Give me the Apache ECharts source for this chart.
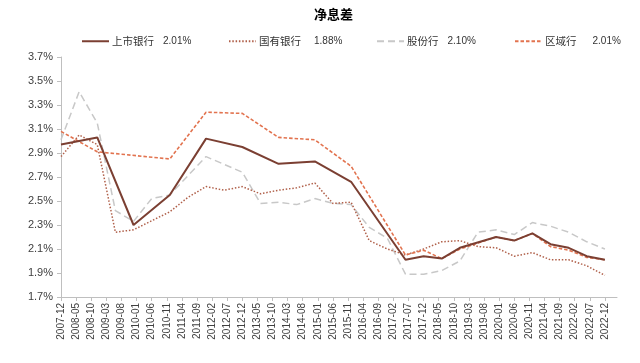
<!DOCTYPE html>
<html><head><meta charset="utf-8">
<script src="https://cdn.jsdelivr.net/npm/echarts@6/dist/echarts.min.js"></script>
<style>html,body{margin:0;padding:0;background:#fff}#c{width:640px;height:363px}</style>
</head><body><div id="c"></div>
<script>
// half-year observation dates
const periods = ['2007-12','2008-06','2008-12','2009-06','2009-12','2010-06','2010-12','2011-06','2011-12','2012-06','2012-12','2013-06','2013-12','2014-06','2014-12','2015-06','2015-12','2016-06','2016-12','2017-06','2017-12','2018-06','2018-12','2019-06','2019-12','2020-06','2020-12','2021-06','2021-12','2022-06','2022-12'];
const listed   = [2.97,null,3.03,null,2.30,null,2.55,null,3.02,null,2.95,null,2.81,null,2.83,null,2.66,null,null,2.01,2.04,2.02,2.11,null,2.20,2.17,2.23,2.14,2.11,2.04,2.01];
const stateOwned = [2.87,3.05,2.97,2.24,2.26,null,2.41,2.53,2.62,2.59,2.62,2.56,2.59,2.61,2.65,2.48,2.49,2.17,2.10,2.05,2.10,2.16,2.17,2.12,2.11,2.04,2.07,2.01,2.01,1.96,1.88];
const joint    = [3.01,3.41,3.15,2.42,2.33,2.52,2.55,null,2.87,null,2.74,2.48,2.49,2.47,2.52,2.48,2.47,2.28,2.19,1.89,1.89,1.92,2.00,2.24,2.26,2.22,2.32,2.29,2.24,2.16,2.10];
const regional = [3.08,null,2.91,null,null,null,2.85,null,3.24,null,3.23,null,3.03,null,3.01,null,2.79,null,null,2.05,2.09,2.02,2.10,2.15,2.20,2.17,2.23,2.12,2.09,2.03,2.01];
const seriesNames = ['上市银行','国有银行','股份行','区域行'];
const legendValues = ['2.01%','1.88%','2.10%','2.01%'];
const titleText = '净息差';
// monthly date axis categories (labels every 5 months)
const months = [];
for (let y = 2007, m = 12; y < 2023 || (y === 2023 && m <= 4); ) {
  months.push(y + '-' + String(m).padStart(2, '0'));
  m++; if (m > 12) { m = 1; y++; }
}

const toPairs = vals => periods.map((p, i) => [p, vals[i]]).filter(d => d[1] != null);

const styles = [
  {color:'#7b3f32', width:2, type:'solid', z:5},
  {color:'#b0604a', width:1.5, type:[1.5,1.8], z:3},
  {color:'#c8c8c8', width:1.5, type:[7,4], z:2},
  {color:'#e2734f', width:1.6, type:[3.5,2], z:4}
];
const allVals = [listed, stateOwned, joint, regional];
const legendLeft = [76, 223, 371, 509];
const legendValPad = [9, 13, 9, 16];

const chart = echarts.init(document.getElementById('c'), null, {renderer:'canvas'});
chart.setOption({
  animation: false,
  backgroundColor: '#fff',
  title: {text: titleText, left: 309, top: 3,
    textStyle: {fontSize: 13, fontWeight: 'bold', color: '#000', fontFamily: 'Noto Sans CJK SC'}},
  legend: seriesNames.map((n, i) => ({
    show: true, orient: 'horizontal',
    data: [n], left: legendLeft[i], top: 31, itemWidth: 27, itemHeight: 10, itemGap: 3,
    itemStyle: {opacity: 0},
    formatter: name => name + '{v|' + legendValues[i] + '}',
    textStyle: {fontSize: 10.5, color: '#333', fontFamily: 'Noto Sans CJK SC', padding: [0,0,0,-2],
      rich: {v: {fontSize: 10, color: '#333', padding: [0,0,0,legendValPad[i]], fontFamily: 'Liberation Sans'}}}
  })),
  grid: {left: 61, right: 23, top: 57, bottom: 66},
  xAxis: {
    type: 'category', data: months, boundaryGap: false,
    axisLine: {lineStyle: {color: '#bfbfbf', width: 1}},
    axisTick: {interval: 4, length: 4, lineStyle: {color: '#bfbfbf'}},
    axisLabel: {interval: 4, rotate: 90, fontSize: 10, color: '#404040', fontFamily: 'Liberation Sans', margin: 6},
    splitLine: {show: false}
  },
  yAxis: {
    type: 'value', min: 1.7, max: 3.7, interval: 0.2,
    axisLine: {show: true, lineStyle: {color: '#bfbfbf', width: 1}},
    axisTick: {show: true, length: 4, lineStyle: {color: '#bfbfbf'}},
    axisLabel: {fontSize: 11, color: '#404040', fontFamily: 'Liberation Sans', margin: 8,
      formatter: v => v.toFixed(1) + '%'},
    splitLine: {show: false}
  },
  series: seriesNames.map((n, i) => ({
    name: n, type: 'line', data: toPairs(allVals[i]), showSymbol: false, symbol: 'none',
    connectNulls: true, z: styles[i].z,
    itemStyle: {color: styles[i].color},
    lineStyle: {color: styles[i].color, width: styles[i].width, type: styles[i].type}
  }))
});
</script></body></html>
